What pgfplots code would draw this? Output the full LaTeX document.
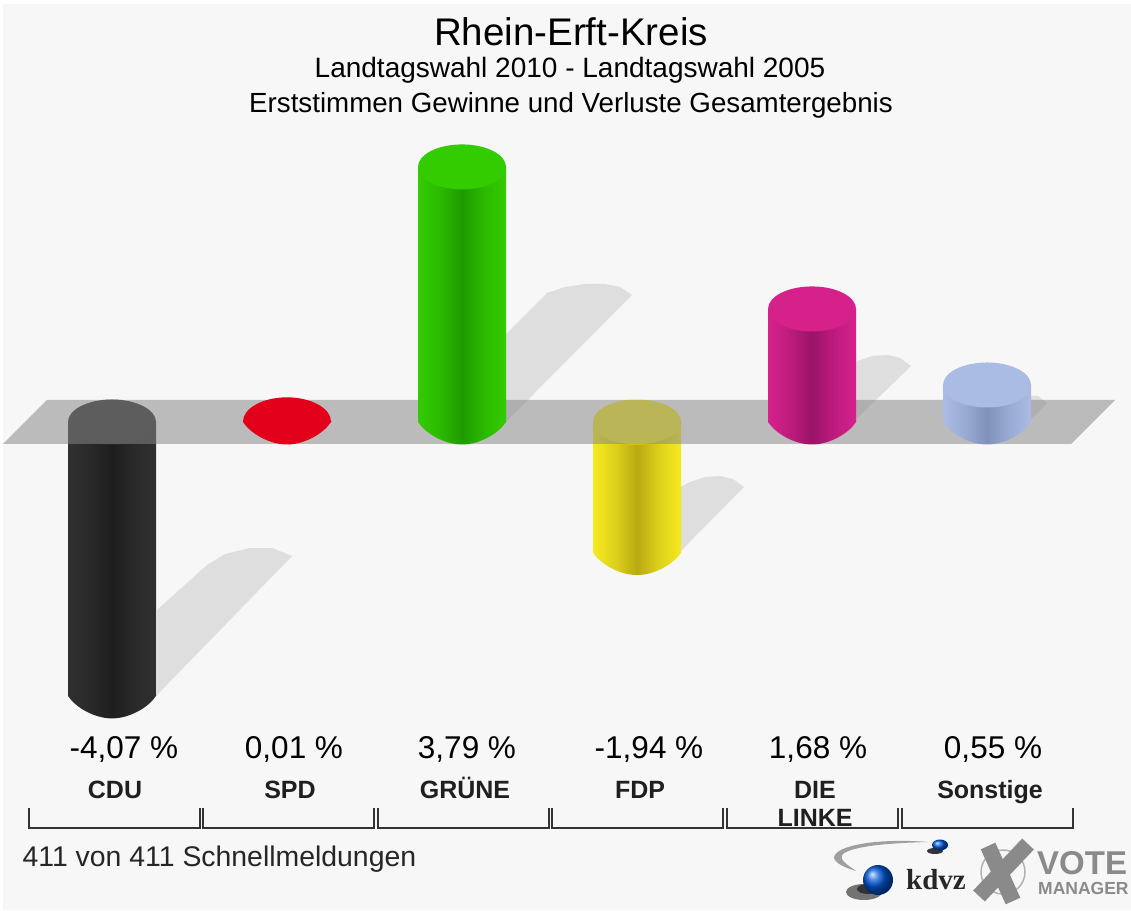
\documentclass[border=0pt]{standalone}
\usepackage{pgfplots}
\pgfplotsset{compat=1.18}
\usepackage{fontspec}
\setmainfont{Liberation Sans}
\newfontfamily\logoserif{Liberation Serif}
\definecolor{bgc}{HTML}{F7F7F7}
\definecolor{shad}{HTML}{DEDEDE}
\definecolor{bandc}{HTML}{868686}
\newcommand\fs[1]{\fontsize{#1}{#1}\selectfont}
\newcommand\defcyl[4]{%
  \definecolor{edge#1}{HTML}{#2}\definecolor{mid#1}{HTML}{#3}\definecolor{dark#1}{HTML}{#4}%
  \pgfdeclarehorizontalshading{shade#1}{100bp}{color(0bp)=(edge#1);color(25bp)=(edge#1);color(37bp)=(mid#1);color(50bp)=(dark#1);color(63bp)=(mid#1);color(75bp)=(edge#1);color(100bp)=(edge#1)}%
  \pgfdeclareplotmark{top#1}{%
    \pgfsetfillcolor{edge#1}\pgfsetstrokecolor{edge#1}%
    \pgfpathellipse{\pgfpointorigin}{\pgfqpoint{44pt}{0pt}}{\pgfqpoint{0pt}{22.5pt}}%
    \pgfusepathqfill}%
  \pgfdeclareplotmark{bot#1}{%
    \pgfpathmoveto{\pgfqpoint{-44pt}{0pt}}%
    \pgfpathcurveto{\pgfqpoint{-37pt}{-11pt}}{\pgfqpoint{-18pt}{-22.5pt}}{\pgfqpoint{0pt}{-22.5pt}}%
    \pgfpathcurveto{\pgfqpoint{18pt}{-22.5pt}}{\pgfqpoint{37pt}{-11pt}}{\pgfqpoint{44pt}{0pt}}%
    \pgfpathlineto{\pgfqpoint{44pt}{1pt}}\pgfpathlineto{\pgfqpoint{-44pt}{1pt}}\pgfpathclose
    \pgfshadepath{shade#1}{0}\pgfusepath{discard}}%
}
\defcyl{cdu}{303030}{2A2A2A}{1E1E1E}
\defcyl{spd}{E2001A}{E2001A}{D80018}
\defcyl{gru}{33CC00}{2CBA00}{1F9A00}
\defcyl{fdp}{F5EA20}{DFD21C}{B9AA10}
\defcyl{lin}{D6218A}{BE1C7E}{9A1468}
\defcyl{son}{AABBE4}{9AABD4}{8192BA}
% the SPD bar has almost no height: round above, pointed below
\pgfdeclareplotmark{topspd}{%
  \pgfsetfillcolor{edgespd}%
  \pgfpathmoveto{\pgfqpoint{-44pt}{0pt}}%
  \pgfpathcurveto{\pgfqpoint{-44pt}{13pt}}{\pgfqpoint{-24pt}{24pt}}{\pgfqpoint{0pt}{24pt}}%
  \pgfpathcurveto{\pgfqpoint{24pt}{24pt}}{\pgfqpoint{44pt}{13pt}}{\pgfqpoint{44pt}{0pt}}%
  \pgfpathcurveto{\pgfqpoint{37pt}{-11pt}}{\pgfqpoint{18pt}{-22.5pt}}{\pgfqpoint{0pt}{-22.5pt}}%
  \pgfpathcurveto{\pgfqpoint{-18pt}{-22.5pt}}{\pgfqpoint{-37pt}{-11pt}}{\pgfqpoint{-44pt}{0pt}}%
  \pgfpathclose\pgfusepathqfill}
\pgfplotsset{chartaxis/.style={
  at={(0,0)},anchor=south west,
  scale only axis,width=1131pt,height=910pt,
  xmin=-0.64,xmax=5.82286,ymin=-7.2511,ymax=6.2704,
  clip=false,
  axis line style={draw=none},tick style={draw=none},major tick length=0pt,
  ytick=\empty}}
% pixel-coordinate polygons
\newcommand\pxplot[2]{\addplot[#1] table[row sep=\\,x expr={(\thisrowno{0}-112)/175},y expr={(422-\thisrowno{1})/67.3}]{#2};}
% one cylinder: name, x, value, top value, bottom value
\newcommand\cyl[5]{%
  \addplot[ybar,bar width=88pt,bar shift=0pt,shade,shading=shade#1,draw=none] coordinates {(#2,#3)};
  \addplot[only marks,mark=bot#1] coordinates {(#2,#5)};
  \addplot[only marks,mark=top#1] coordinates {(#2,#4)};
}
\begin{document}
\begin{tikzpicture}
\path[use as bounding box] (0,0) rectangle (1131pt,910pt);
\fill[white] (0,0) rectangle (1131pt,910pt);
\fill[bgc] (3pt,0pt) rectangle (1131pt,906pt);
\begin{axis}[chartaxis,xtick=\empty]
% shadows
\pxplot{fill=shad,draw=none}{157 610\\ 207 565\\ 225 554\\ 250 548\\ 272 548\\ 292 556\\ 157 695\\}
\pxplot{fill=shad,draw=none}{500 340\\ 547 293\\ 565 287\\ 585 284\\ 605 284\\ 620 287\\ 632 295\\ 500 428\\}
\pxplot{fill=shad,draw=none}{670 492\\ 690 482\\ 705 477\\ 720 476\\ 733 479\\ 744 487\\ 670 562\\}
\pxplot{fill=shad,draw=none}{845 372\\ 858 361\\ 872 356\\ 888 355\\ 900 358\\ 911 366\\ 845 430\\}
\pxplot{fill=shad,draw=none}{1020 400\\ 1030 396\\ 1038 396\\ 1047 403\\ 1025 425\\}
% negative bars lie under the band
\cyl{cdu}{0}{-4.07}{0}{-4.07}
\cyl{fdp}{3}{-1.94}{0}{-1.94}
\end{axis}
\begin{axis}[chartaxis,
  xtick={0,1,2,3,4,5},
  xticklabels={CDU,SPD,GRÜNE,FDP,{\parbox[t]{100pt}{\centering DIE\\[3pt] LINKE}},Sonstige},
  x tick label style={anchor=north,yshift=133pt,xshift=3pt,font=\bfseries\fs{25},text height=18pt,text depth=0pt,color=black!88},
]
% band
\pxplot{fill=bandc,fill opacity=0.53,draw=none}{3 444\\ 47 400\\ 1115 400\\ 1071 444\\}
% positive bars
\cyl{spd}{1}{0.01}{0.01}{0}
\cyl{gru}{2}{3.79}{3.79}{0}
\cyl{lin}{4}{1.68}{1.68}{0}
\cyl{son}{5}{0.55}{0.55}{0}
\end{axis}
\begin{scope}[x=1pt,y=-1pt,yshift=910pt]
\node[font=\fs{38.5}] at (571,32) {Rhein-Erft-Kreis};
\node[font=\fs{28}] at (570,70) {Landtagswahl 2010 - Landtagswahl 2005};
\node[font=\fs{27.7}] at (571,105) {Erststimmen Gewinne und Verluste Gesamtergebnis};
\node[font=\fs{31.5}] at (124,750) {-4,07 \%};
\node[font=\fs{31.5}] at (294,750) {0,01 \%};
\node[font=\fs{31.5}] at (467,750) {3,79 \%};
\node[font=\fs{31.5}] at (649,750) {-1,94 \%};
\node[font=\fs{31.5}] at (818,750) {1,68 \%};
\node[font=\fs{31.5}] at (993,750) {0,55 \%};
\foreach \a/\b in {29/200,203/374,378/549,552/723,727/898,902/1073}
  \draw[line width=2pt,color=black!80] (\a,808) -- (\a,828) -- (\b,828) -- (\b,808);
\node[font=\fs{28.4},anchor=west,color=black!85] at (19,859) {411 von 411 Schnellmeldungen};
% logo
\fill[gray!75] (928,842) .. controls (880,838) and (834,845) .. (834,858) .. controls (836,864) and (846,868) .. (856,871) .. controls (846,864) and (840,860) .. (842,855) .. controls (850,846) and (890,843) .. (928,842);
\fill[black!80] (935,851) ellipse (8 and 3);
\shade[ball color=blue!60!cyan!85!black] (940,845) ellipse (8 and 5.5);
\fill[black!55] (864,892) ellipse (18 and 8);
\fill[black!80] (868,889) ellipse (11 and 5);
\shade[ball color=blue!60!cyan!85!black] (878,880) circle (15);
\node[font=\logoserif\bfseries\fs{29},color=black!85] at (936,880) {kdvz};
\draw[line width=1.5pt,gray!60] (1003,872) circle (22);
\draw[line width=16pt,color=black!46] (1028,844) -- (979,896);
\draw[line width=16pt,color=black!46] (988,846) -- (1013,901);
\node[font=\bfseries\fs{33},color=black!46,anchor=west,inner sep=0pt] at (1037,863) {VOTE};
\node[font=\bfseries\fs{17.5},color=black!46,anchor=west,inner sep=0pt] at (1038,888) {MANAGER};
\end{scope}
\end{tikzpicture}
\end{document}
